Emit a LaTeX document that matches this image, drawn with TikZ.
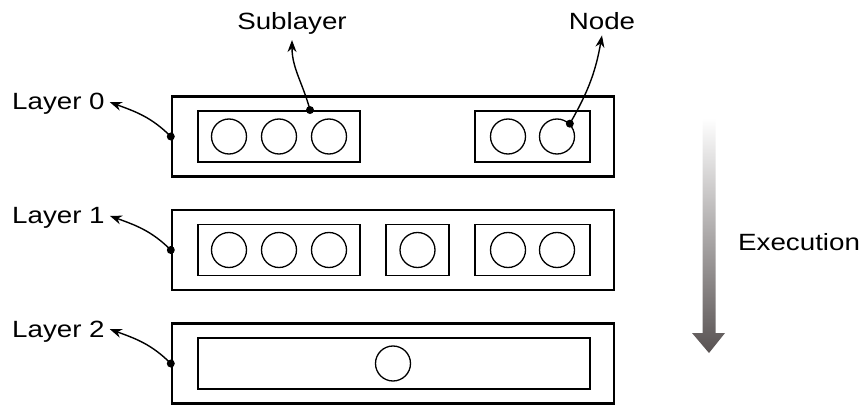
\documentclass[tikz,border=0pt]{standalone}
\usepackage{fontspec}
\setmainfont{Liberation Sans}[FakeStretch=1.18]
\usepackage{tikz}
\usetikzlibrary{arrows.meta}
\usetikzlibrary{positioning}
\definecolor{execgray}{RGB}{88,82,82}
\tikzstyle{layer} = [rectangle, draw, line width=2.4pt, minimum width=442pt,
minimum height=80pt, node distance=113.5pt, inner sep=0pt]
\tikzstyle{sub} = [rectangle, draw, line width=1.9pt, minimum height=51pt, inner sep=0pt]
\tikzstyle{unit} = [circle, draw, line width=1.3pt, minimum size=35pt, inner sep=0pt]
\tikzstyle{tag} = [font=\fontsize{23.5}{28}\selectfont, inner sep=5pt]
\tikzstyle{line} = [draw, -{Stealth[length=12pt,width=9pt]}, line width=1.4pt]

\begin{document}
\begin{tikzpicture}[x=1pt,y=1pt]
\useasboundingbox (0,0) rectangle (863,405);
% Place nodes
	\node [layer] (l0) at (393,268.5) {};
	\node [layer, below of=l0] (l1) {};
	\node [layer, below of=l1] (l2) {};
	\node [sub, minimum width=162pt, xshift=-114pt] (s00) at (l0) {};
	\node [sub, minimum width=115pt, xshift=139.5pt] (s01) at (l0) {};
	\node [sub, minimum width=162pt, xshift=-114pt] (s10) at (l1) {};
	\node [sub, minimum width=63pt, xshift=24.5pt] (s11) at (l1) {};
	\node [sub, minimum width=115pt, xshift=139.5pt] (s12) at (l1) {};
	\node [sub, minimum width=392pt, xshift=1pt] (s20) at (l2) {};
	\node [unit, xshift=-50pt] (n000) at (s00) {};
	\node [unit] (n001) at (s00) {};
	\node [unit, xshift=50pt] (n002) at (s00) {};
	\node [unit, xshift=-24.5pt] (n010) at (s01) {};
	\node [unit, xshift=24.5pt] (n011) at (s01) {};
	\node [unit, xshift=-50pt] (n100) at (s10) {};
	\node [unit] (n101) at (s10) {};
	\node [unit, xshift=50pt] (n102) at (s10) {};
	\node [unit] (n110) at (s11) {};
	\node [unit, xshift=-24.5pt] (n120) at (s12) {};
	\node [unit, xshift=24.5pt] (n121) at (s12) {};
	\node [unit, xshift=-1pt] (n200) at (s20) {};
	\node [tag, anchor=base west] (tl0) at (7,295) {Layer 0};
	\node [tag, anchor=base west] (tl1) at (7,181.5) {Layer 1};
	\node [tag, anchor=base west] (tl2) at (7,68) {Layer 2};
	\node [tag, anchor=base] (tsub) at (292,375) {Sublayer};
	\node [tag, anchor=base] (tnode) at (602,375) {Node};
	\node [tag, anchor=base west] (texec) at (733,154) {Execution};

% Draw edges
	\path [line] (l0.west) to[out=135, in=-20] ([yshift=2pt]tl0.east);
	\path [line] (l1.west) to[out=135, in=-20] ([yshift=2pt]tl1.east);
	\path [line] (l2.west) to[out=135, in=-20] ([yshift=2pt]tl2.east);
	\path [line] ([xshift=31pt]s00.north) to[out=105, in=-90] (tsub.south);
	\path [line] (n011.45) to[out=60, in=-100] (tnode.south);
	\fill (l0.west) circle (4pt);
	\fill (l1.west) circle (4pt);
	\fill (l2.west) circle (4pt);
	\fill ([xshift=31pt]s00.north) circle (4pt);
	\fill (n011.45) circle (4pt);

% Execution arrow
	\shade [top color=white, bottom color=execgray] (702.5,287) -- (715.5,287) -- (715.5,72)
		-- (725,72) -- (709,52) -- (692,72) -- (702.5,72) -- cycle;

\end{tikzpicture}
\end{document}
